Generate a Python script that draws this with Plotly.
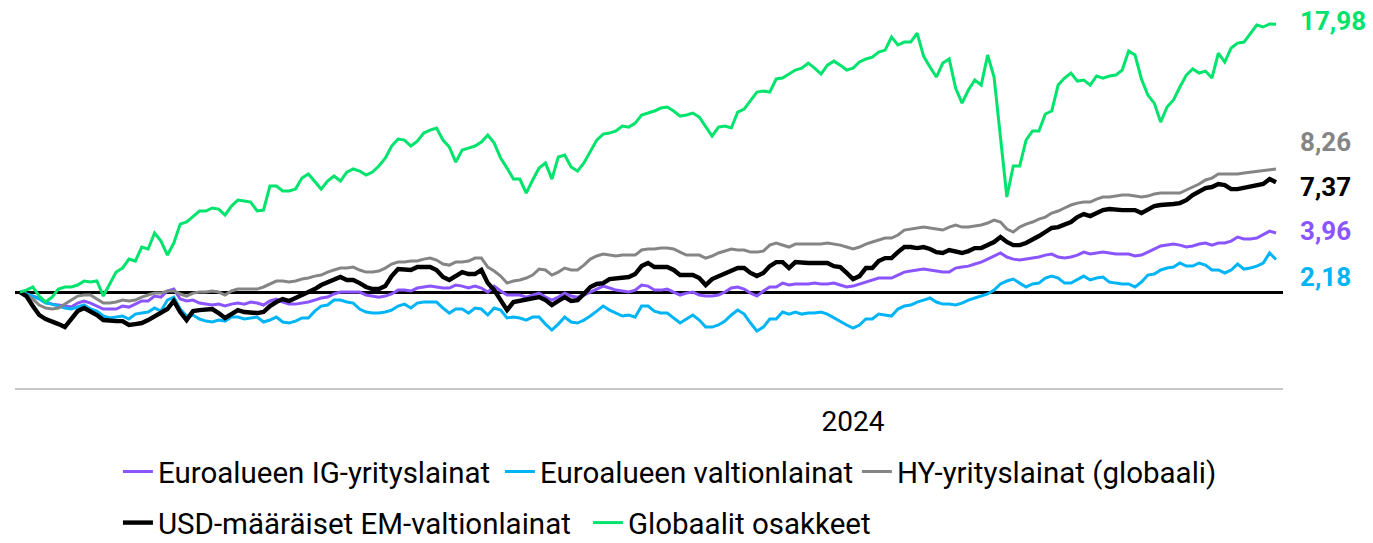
import plotly.graph_objects as go

# period index (one observation per step)
period = list(range(197))
tick_positions = [130]
tick_labels = ["2024"]

eq = [0.00,0.13,0.34,-0.27,-0.67,-0.34,0.20,0.34,0.34,0.47,
0.74,0.67,0.74,-0.27,0.54,1.34,1.61,2.21,2.08,3.02,
2.89,3.96,3.42,2.48,3.29,4.56,4.70,5.10,5.44,5.44,
5.64,5.57,5.17,5.77,6.17,6.11,6.04,5.44,5.50,7.11,
7.11,6.78,6.78,6.91,7.65,7.92,7.38,6.91,7.45,7.79,
7.45,8.05,8.26,8.12,7.85,8.05,8.46,8.99,9.80,10.27,
10.20,9.80,10.13,10.67,10.87,11.01,10.20,9.73,8.72,9.53,
9.66,9.80,10.07,10.54,10.00,8.99,8.32,7.58,7.58,6.64,
7.52,8.32,8.66,7.58,9.06,9.19,8.39,8.12,8.66,9.40,
10.20,10.60,10.67,10.81,11.14,11.07,11.34,11.88,12.01,12.15,
12.35,12.42,12.15,11.81,11.88,12.01,11.74,11.07,10.47,11.07,
11.14,11.01,12.08,12.28,12.82,13.42,13.49,13.42,14.30,14.36,
14.63,14.90,15.03,15.37,15.03,14.63,15.23,15.50,15.23,14.90,
15.03,15.44,15.64,15.77,16.11,16.24,17.11,16.58,16.78,16.78,
17.38,15.84,15.10,14.43,15.37,15.64,13.69,12.68,13.56,14.23,
13.89,15.91,14.43,10.20,6.38,8.46,8.46,10.20,10.81,10.81,
11.95,12.15,13.89,14.36,14.70,14.16,14.23,13.89,14.50,14.36,
14.50,14.56,14.90,16.17,15.91,14.30,13.22,12.68,11.41,12.42,
12.89,13.76,14.56,14.97,14.70,14.83,14.36,16.04,15.44,16.38,
16.71,16.78,17.38,17.92,17.79,17.99,17.98]

hy = [0.00,-0.20,-0.47,-0.87,-1.07,-1.14,-1.07,-0.81,-0.54,-0.27,
-0.20,-0.20,-0.47,-0.74,-0.74,-0.67,-0.54,-0.60,-0.54,-0.34,
-0.20,-0.07,-0.07,0.07,0.07,-0.13,-0.27,-0.07,0.00,0.00,
0.07,0.00,-0.20,0.07,0.20,0.20,0.20,0.20,0.34,0.54,
0.74,0.74,0.67,0.74,0.87,0.94,1.07,1.14,1.34,1.48,
1.61,1.61,1.68,1.48,1.34,1.34,1.41,1.61,1.88,2.01,
2.01,2.08,2.08,2.21,2.28,2.15,1.88,1.81,2.01,2.01,
2.08,2.28,2.28,1.68,1.41,1.07,0.60,0.74,0.81,0.94,
1.14,1.54,1.48,1.14,1.34,1.61,1.48,1.48,1.81,2.21,
2.42,2.55,2.48,2.42,2.48,2.48,2.48,2.82,2.89,2.89,
2.95,2.95,2.89,2.68,2.48,2.48,2.48,2.28,2.42,2.62,
2.75,2.89,2.82,2.82,2.68,2.68,2.75,3.15,3.29,3.15,
3.02,3.22,3.22,3.22,3.22,3.22,3.29,3.22,3.15,3.02,
2.89,3.02,3.22,3.36,3.49,3.62,3.62,3.83,4.16,4.23,
4.30,4.36,4.30,4.23,4.16,4.36,4.50,4.36,4.36,4.43,
4.50,4.63,4.83,4.70,4.23,4.03,4.36,4.56,4.70,4.90,
5.03,5.30,5.44,5.64,5.84,5.97,6.04,6.04,6.24,6.38,
6.38,6.44,6.51,6.51,6.44,6.38,6.44,6.58,6.64,6.64,
6.64,6.64,6.85,7.05,7.25,7.52,7.65,7.92,7.92,7.92,
7.92,7.99,8.05,8.12,8.19,8.22,8.26]

em = [0.00,-0.27,-0.94,-1.54,-1.81,-1.95,-2.15,-2.35,-1.81,-1.28,
-1.07,-1.28,-1.54,-1.88,-1.95,-1.95,-1.95,-2.21,-2.15,-2.08,
-1.88,-1.61,-1.41,-1.14,-0.60,-1.34,-1.88,-1.28,-1.21,-1.14,
-1.14,-1.41,-1.74,-1.48,-1.21,-1.34,-1.41,-1.41,-1.34,-0.94,
-0.67,-0.47,-0.60,-0.40,-0.20,-0.07,0.20,0.47,0.67,0.87,
1.01,0.81,0.81,0.60,0.34,0.20,0.20,0.40,1.07,1.54,
1.54,1.48,1.68,1.68,1.68,1.48,1.01,0.81,1.07,1.34,
1.21,1.21,1.48,0.60,0.13,-0.54,-1.21,-0.67,-0.60,-0.54,
-0.40,-0.34,-0.54,-0.87,-0.60,-0.34,-0.60,-0.54,-0.13,0.34,
0.54,0.60,0.87,0.94,1.01,1.01,1.21,1.74,1.95,1.68,
1.68,1.68,1.48,1.14,1.14,1.14,0.94,0.47,0.87,1.07,
1.28,1.48,1.61,1.61,1.28,1.07,1.28,1.74,2.01,2.01,
1.61,2.01,1.95,1.95,1.95,1.95,1.95,1.74,1.68,1.28,
0.87,1.07,1.61,1.61,2.08,2.28,2.28,2.68,3.02,3.02,
2.95,3.02,2.89,2.68,2.62,2.82,2.75,2.62,2.75,2.95,
2.95,3.15,3.36,3.69,3.36,3.15,3.15,3.29,3.49,3.76,
4.03,4.30,4.36,4.56,4.70,5.03,5.23,5.10,5.30,5.50,
5.57,5.50,5.50,5.50,5.50,5.30,5.50,5.77,5.84,5.91,
5.91,5.97,6.17,6.51,6.78,6.98,7.05,7.25,7.18,6.91,
6.91,6.98,7.05,7.18,7.25,7.58,7.37]

ig = [0.00,-0.13,-0.27,-0.40,-0.67,-0.81,-0.87,-0.94,-1.01,-0.74,
-0.60,-0.74,-0.94,-1.14,-1.14,-1.14,-0.94,-1.01,-0.81,-0.60,
-0.60,-0.27,-0.34,0.07,0.20,-0.47,-0.60,-0.54,-0.74,-0.81,
-0.87,-0.81,-0.94,-0.81,-0.74,-0.81,-0.67,-0.74,-0.87,-0.60,
-0.47,-0.67,-0.81,-0.81,-0.74,-0.67,-0.54,-0.40,-0.34,-0.13,
0.00,0.00,0.00,0.00,-0.20,-0.27,-0.34,-0.27,-0.13,0.13,
0.13,0.07,0.27,0.34,0.40,0.34,0.27,0.27,0.47,0.40,
0.27,0.40,0.27,0.00,0.40,0.07,-0.20,-0.20,-0.20,-0.34,
-0.20,-0.07,-0.34,-0.54,-0.34,-0.07,-0.27,-0.34,-0.20,0.00,
0.20,0.40,0.27,0.13,0.07,0.00,0.13,0.47,0.40,0.13,
0.13,0.20,0.00,-0.20,-0.07,0.00,-0.20,-0.27,-0.27,-0.20,
0.00,0.27,0.34,0.20,-0.07,-0.27,0.07,0.34,0.34,0.60,
0.47,0.54,0.54,0.54,0.60,0.54,0.54,0.60,0.47,0.34,
0.40,0.54,0.67,0.81,0.94,0.94,0.94,1.14,1.34,1.41,
1.48,1.54,1.48,1.41,1.34,1.34,1.61,1.68,1.74,1.88,
2.01,2.21,2.42,2.62,2.35,2.21,2.15,2.21,2.28,2.35,
2.48,2.55,2.35,2.28,2.35,2.48,2.68,2.55,2.62,2.68,
2.62,2.55,2.55,2.55,2.42,2.48,2.68,2.89,3.09,3.15,
3.22,3.15,3.02,3.09,3.22,3.29,3.15,3.29,3.29,3.42,
3.69,3.56,3.56,3.62,3.83,4.09,3.96]

gov = [0.00,-0.13,-0.27,-0.47,-0.74,-0.81,-0.94,-1.07,-1.14,-1.01,
-0.87,-1.14,-1.28,-1.61,-1.74,-1.68,-1.61,-1.81,-1.48,-1.41,
-1.34,-1.07,-1.28,-0.54,-0.34,-1.14,-1.61,-1.54,-1.81,-1.95,
-2.01,-1.88,-1.95,-1.68,-1.68,-1.81,-1.74,-1.68,-2.01,-1.88,
-1.68,-2.01,-2.08,-1.95,-1.74,-1.74,-1.28,-0.94,-0.87,-0.54,
-0.54,-0.67,-0.74,-1.14,-1.34,-1.41,-1.41,-1.34,-1.21,-0.94,
-0.81,-1.07,-0.74,-0.67,-0.67,-0.67,-1.07,-1.41,-1.14,-1.14,
-1.41,-1.07,-1.14,-1.54,-1.07,-1.21,-1.74,-1.68,-1.74,-1.88,
-1.68,-1.68,-2.15,-2.55,-2.15,-1.68,-2.01,-2.08,-1.88,-1.61,
-1.28,-0.94,-1.21,-1.41,-1.61,-1.54,-1.68,-0.94,-0.94,-1.28,
-1.41,-1.41,-1.74,-2.08,-1.81,-1.54,-1.88,-2.35,-2.35,-2.21,
-1.95,-1.54,-1.21,-1.48,-2.08,-2.62,-2.35,-1.81,-1.81,-1.34,
-1.48,-1.34,-1.48,-1.41,-1.41,-1.34,-1.48,-1.74,-1.95,-2.21,
-2.42,-2.21,-1.81,-1.81,-1.48,-1.54,-1.61,-1.14,-0.94,-0.87,
-0.67,-0.54,-0.40,-0.67,-0.81,-0.81,-0.87,-0.74,-0.54,-0.40,
-0.27,-0.13,0.13,0.54,0.74,0.87,0.60,0.34,0.54,0.60,
0.94,1.07,0.94,0.60,0.60,0.81,1.07,0.81,0.94,1.01,
0.67,0.60,0.54,0.54,0.34,0.67,1.14,1.21,1.48,1.61,
1.68,1.95,1.74,1.74,1.95,1.81,1.48,1.48,1.28,1.48,
1.88,1.54,1.61,1.74,1.95,2.62,2.18]

series_names = ["Euroalueen IG-yrityslainat", "Euroalueen valtionlainat",
                "HY-yrityslainat (globaali)", "USD-määräiset EM-valtionlainat",
                "Globaalit osakkeet"]
series_values = [ig, gov, hy, em, eq]

# styling (not data)
colors = ["#8A55FF", "#00B4F5", "#858585", "#000000", "#00E36C"]
widths = [3.0, 3.0, 3.0, 4.4, 3.0]
legend_ids = ["legend", "legend2", "legend3", "legend4", "legend5"]
legend_pos = [(0.0859, 0.131), (0.3641, 0.131), (0.6241, 0.131),
              (0.0859, 0.037), (0.4282, 0.037)]
label_shift = [2, -17, 27, -5, 3]

FONT = "Roboto"
fig = go.Figure()
for name, vals, c, w, lg in zip(series_names, series_values, colors, widths, legend_ids):
    fig.add_trace(go.Scatter(x=period, y=vals, mode="lines", name=name,
                             line=dict(color=c, width=w), legend=lg,
                             hoverinfo="skip"))

for vals, c, s in zip(series_values, colors, label_shift):
    fig.add_annotation(x=period[-1], y=vals[-1], xref="x", yref="y",
                       text=f"{vals[-1]:.2f}".replace(".", ","),
                       showarrow=False, xanchor="left", yanchor="middle",
                       xshift=22, yshift=s,
                       font=dict(family=FONT, size=26, color=c, weight="bold"))

layout_legends = {}
for lg, (lx, ly) in zip(legend_ids, legend_pos):
    layout_legends[lg] = dict(x=lx, y=ly, xref="container", yref="container",
                              xanchor="left", yanchor="middle",
                              orientation="h", bgcolor="rgba(0,0,0,0)",
                              font=dict(family=FONT, size=29.5, color="#000"),
                              itemwidth=30)

fig.update_layout(
    width=1373, height=543,
    margin=dict(l=15, r=90, t=10, b=155, autoexpand=False),
    paper_bgcolor="white", plot_bgcolor="white",
    font=dict(family=FONT, color="#000"),
    showlegend=True,
    hovermode=False,
    **layout_legends,
)
fig.update_xaxes(range=[-0.78, 197.09], showgrid=False, zeroline=False,
                 showline=True, linecolor="#c8c8c8", linewidth=2,
                 tickvals=tick_positions, ticktext=tick_labels,
                 ticks="", ticklabelstandoff=7,
                 tickfont=dict(family=FONT, size=28, color="#000"))
fig.update_yaxes(range=[-6.44, 18.93], showgrid=False, showticklabels=False,
                 zeroline=True, zerolinecolor="#000000", zerolinewidth=2.5,
                 showline=False)

fig.write_html("out.html", config={"displayModeBar": False},
               post_script="document.body.style.margin='0';")
